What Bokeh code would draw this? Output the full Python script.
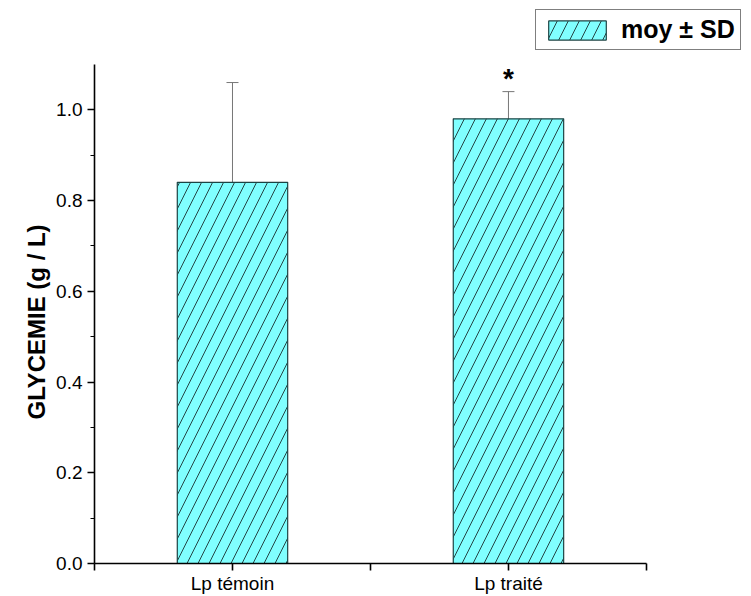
from bokeh.plotting import figure
from bokeh.models import (ColumnDataSource, FixedTicker, Legend, LegendItem,
                          Whisker, TeeHead, Range1d, Title)
from bokeh.core.properties import value
from bokeh.embed import file_html
from bokeh.resources import INLINE

# Mean glycaemia per group with standard deviation
groups = ["Lp témoin", "Lp traité"]
positions = [1, 2]
means = [0.84, 0.98]
sds = [0.22, 0.06]
significance = ["", "*"]

y_ticks = [0.0, 0.2, 0.4, 0.6, 0.8, 1.0]

lower = [m - s for m, s in zip(means, sds)]
upper = [m + s for m, s in zip(means, sds)]

src = ColumnDataSource(dict(x=positions, top=means, lower=lower, upper=upper,
                            sig=significance))

FONT = "Liberation Sans"

# The frame fills the top and right of the canvas so the legend box can sit
# in the corner; the axis lines are limited to the data span through bounds.
p = figure(width=751, height=596, output_backend="svg", toolbar_location=None,
           x_range=Range1d(0.5, 2.877), y_range=Range1d(0, 1.2408),
           min_border_left=94, min_border_right=1,
           min_border_top=0, min_border_bottom=32,
           outline_line_color=None, background_fill_color="white")
p.grid.visible = False

bars = p.vbar(x="x", top="top", width=0.4, bottom=0, source=src,
              fill_color="#80ffff", line_color="#1c4444", line_width=1.2,
              hatch_pattern="/", hatch_color="#1a3030", hatch_weight=0.9,
              hatch_scale=22)

whisk = Whisker(base="x", upper="upper", lower="lower", source=src,
                line_color="#777777", line_width=1,
                upper_head=TeeHead(size=12, line_color="#777777", line_width=1),
                lower_head=TeeHead(size=12, line_color="#777777", line_width=1))
p.add_layout(whisk)

p.text(x="x", y="upper", text="sig", source=src, y_offset=2,
       text_align="center", text_baseline="bottom",
       text_font=value(FONT), text_font_style="bold", text_font_size="28px",
       text_color="black")

# X axis: groups at 1 and 2, plain ticks in between and at the ends
p.xaxis.ticker = FixedTicker(ticks=[0.5, 1, 1.5, 2, 2.5], minor_ticks=[])
p.xaxis.major_label_overrides = {0.5: "", 1: groups[0], 1.5: "", 2: groups[1], 2.5: ""}
p.xaxis.bounds = (0.5, 2.5)
# Y axis
p.yaxis.ticker = FixedTicker(ticks=y_ticks, minor_ticks=[0.1, 0.3, 0.5, 0.7, 0.9])
p.yaxis.major_label_overrides = {t: f"{t:.1f}" for t in y_ticks}
p.yaxis.bounds = (0, 1.1)

for ax in (p.xaxis, p.yaxis):
    ax.axis_line_width = 1.6
    ax.axis_line_color = "black"
    ax.major_tick_line_width = 1.6
    ax.minor_tick_line_width = 1.2
    ax.major_tick_in = 0
    ax.major_tick_out = 7
    ax.minor_tick_in = 0
    ax.minor_tick_out = 4
    ax.major_label_text_font = FONT
    ax.major_label_text_font_size = "19px"
    ax.major_label_text_color = "black"

p.xaxis.major_label_standoff = 2
p.yaxis.major_label_standoff = 5

# Y axis title, centred on the 0 - 1.1 span of the axis line
ytitle = Title(text="GLYCEMIE (g / L)", align="left", offset=144,
               text_font=FONT, text_font_style="bold", text_font_size="24px",
               text_color="black", standoff=8)
p.add_layout(ytitle, "left")

legend = Legend(items=[LegendItem(label="moy ± SD", renderers=[bars])],
                location=(441, 513), orientation="horizontal",
                label_text_font=FONT, label_text_font_style="bold",
                label_text_font_size="25px", label_text_color="black",
                glyph_width=72, glyph_height=24,
                border_line_color="black", border_line_width=1.2,
                padding=5, margin=0, spacing=0, label_standoff=8,
                background_fill_alpha=1)
p.add_layout(legend, "center")

open("out.html", "w").write(file_html(p, INLINE))
